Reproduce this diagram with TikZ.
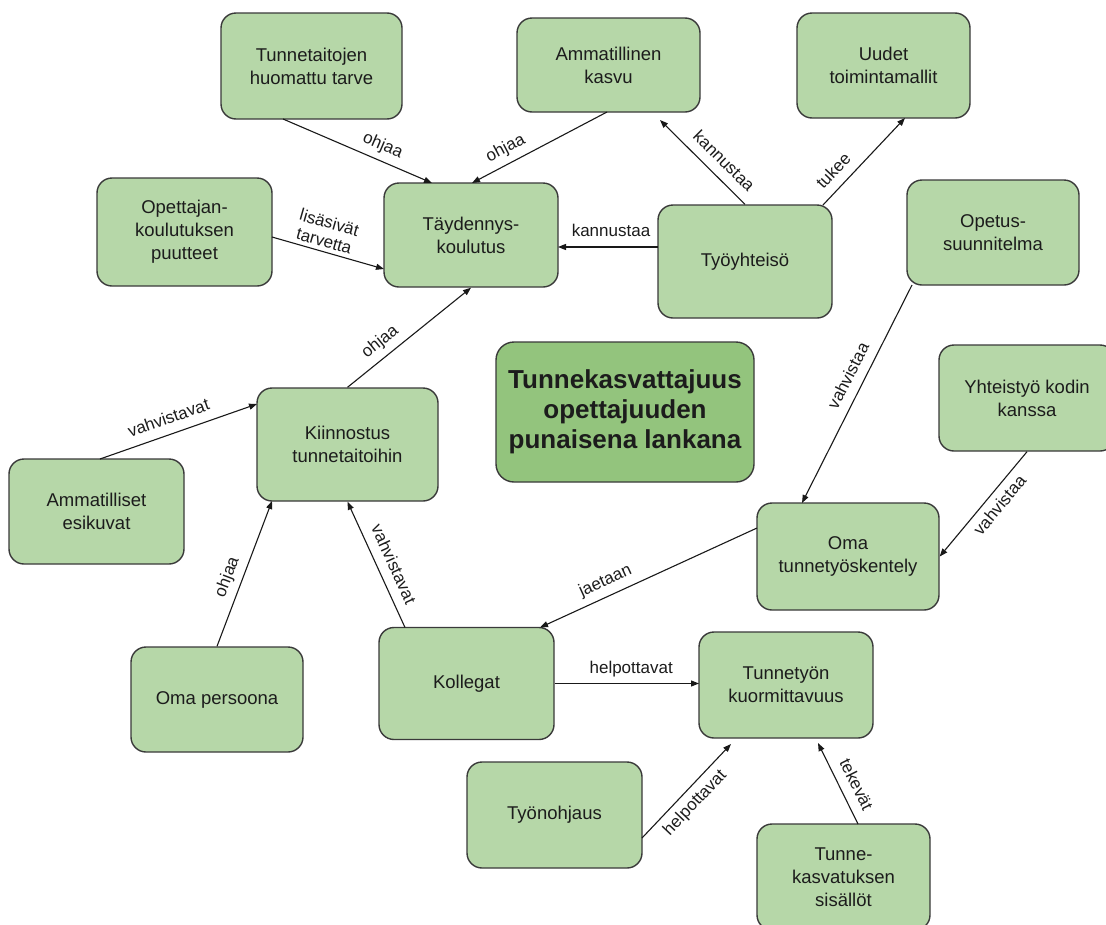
\documentclass[tikz,border=0pt]{standalone}
\usepackage{fontspec}
\setmainfont{Liberation Sans}
\usetikzlibrary{arrows.meta,calc}
\definecolor{boxfill}{HTML}{B6D7A8}
\definecolor{cenfill}{HTML}{93C47D}
\definecolor{boxline}{HTML}{3A3A3A}
\definecolor{txt}{HTML}{1C1C1C}
\begin{document}
\begin{tikzpicture}[x=1pt,y=-1pt,
  box/.style={draw=boxline, line width=1.4pt, fill=boxfill, rounded corners=15pt,
    align=center, text=txt, font=\fontsize{18.5}{23}\selectfont, inner sep=0pt},
  arr/.style={draw=black!90, line width=1.1pt, -{Triangle[length=8pt,width=6pt]}},
  lbl/.style={font=\fontsize{17}{19}\selectfont, text=txt, inner sep=6pt,
    text height=12.5pt, text depth=3.7pt},
]
\useasboundingbox (0,0) rectangle (1106,924);
\clip (0,0) rectangle (1106,924);
\fill[white] (0,0) rectangle (1106,924);

% nodes
\node[box, minimum width=181pt, minimum height=106pt] (tun) at (311.5,66) {Tunnetaitojen\\huomattu tarve};
\node[box, minimum width=183pt, minimum height=94pt] (amk) at (608.5,65) {Ammatillinen\\kasvu};
\node[box, minimum width=173pt, minimum height=105pt] (uud) at (883.5,65.5) {Uudet\\toimintamallit};
\node[box, minimum width=175pt, minimum height=108pt] (ope) at (184.5,232) {Opettajan-\\koulutuksen\\puutteet};
\node[box, minimum width=174pt, minimum height=104pt] (tay) at (471,235) {Täydennys-\\koulutus};
\node[box, minimum width=174pt, minimum height=113pt] (tyo) at (745,261.5) {Työyhteisö};
\node[box, minimum width=172pt, minimum height=105pt] (ops) at (993,232.5) {Opetus-\\suunnitelma};
\node[box, fill=cenfill, rounded corners=18pt, minimum width=258pt, minimum height=140pt,
  font=\bfseries\fontsize{26}{30}\selectfont] (cen) at (625,412) {Tunnekasvattajuus\\opettajuuden\\punaisena lankana};
\node[box, minimum width=176pt, minimum height=106pt] (yht) at (1027,398) {Yhteistyö kodin\\kanssa};
\node[box, minimum width=181pt, minimum height=113pt] (kii) at (347.5,444.5) {Kiinnostus\\tunnetaitoihin};
\node[box, minimum width=175pt, minimum height=105pt] (ame) at (96.5,511.5) {Ammatilliset\\esikuvat};
\node[box, minimum width=182pt, minimum height=107pt] (oma) at (848,556.5) {Oma\\tunnetyöskentely};
\node[box, minimum width=175pt, minimum height=112pt] (kol) at (466.5,683.5) {Kollegat};
\node[box, minimum width=172pt, minimum height=105pt] (per) at (217,699.5) {Oma persoona};
\node[box, minimum width=174pt, minimum height=106pt] (tkv) at (786,685) {Tunnetyön\\kuormittavuus};
\node[box, minimum width=175pt, minimum height=106pt] (tno) at (554.5,815) {Työnohjaus};
\node[box, minimum width=173pt, minimum height=106pt] (tks) at (843.5,877) {Tunne-\\kasvatuksen\\sisällöt};

% connectors
\draw[arr] ($(tun)+(-28.5,53)$) -- node[lbl,pos=.63,sloped,above]{ohjaa} ($(tay)+(-39,-52)$);
\draw[arr] ($(amk)+(-1.5,47)$) -- node[lbl,pos=.70,sloped,above]{ohjaa} ($(tay)+(1,-52)$);
\draw[arr] ($(ope)+(87.5,5)$) -- node[lbl,pos=.44,sloped,above,align=center,inner sep=4pt,text height=,text depth=]{lisäsivät\\tarvetta} ($(tay)+(-87,34)$);
\draw[arr] ($(tyo)+(-87,-14.5)$) -- node[lbl,pos=.47,above]{kannustaa} ($(tay)+(87,12)$);
\draw[arr] (tyo.north) -- node[lbl,pos=.38,sloped,above]{kannustaa} ($(amk)+(51.5,55)$);
\draw[arr] ($(tyo)+(78,-56.5)$) -- node[lbl,pos=.27,sloped,above]{tukee} ($(uud)+(21.5,52.5)$);
\draw[arr] ($(ops)+(-81,52.5)$) -- node[lbl,pos=.45,sloped,above]{vahvistaa} ($(oma)+(-46,-53.5)$);
\draw[arr] (yht.south) -- node[lbl,pos=.43,sloped,below]{vahvistaa} (oma.east);
\draw[arr] ($(oma)+(-91,-28.5)$) -- node[lbl,pos=.67,sloped,above]{jaetaan} ($(kol)+(73.5,-56)$);
\draw[arr] ($(kol)+(-61.5,-56)$) -- node[lbl,pos=.45,sloped,above]{vahvistavat} (kii.south);
\draw[arr] (per.north) -- node[lbl,pos=.44,sloped,above]{ohjaa} ($(kii)+(-75.5,56.5)$);
\draw[arr] ($(ame)+(3.5,-52.5)$) -- node[lbl,pos=.47,sloped,above]{vahvistavat} ($(kii)+(-90.5,-40.5)$);
\draw[arr] (kii.north) -- node[lbl,pos=.34,sloped,above]{ohjaa} (tay.south);
\draw[arr] (kol.east) -- node[lbl,pos=.53,above]{helpottavat} ($(tkv)+(-87,-1.5)$);
\draw[arr] ($(tno)+(87.5,23)$) -- node[lbl,pos=.48,sloped,below]{helpottavat} ($(tkv)+(-55,59)$);
\draw[arr] ($(tks)+(14.5,-53)$) -- node[lbl,pos=.40,sloped,above]{tekevät} ($(tkv)+(32,58)$);
\end{tikzpicture}
\end{document}
